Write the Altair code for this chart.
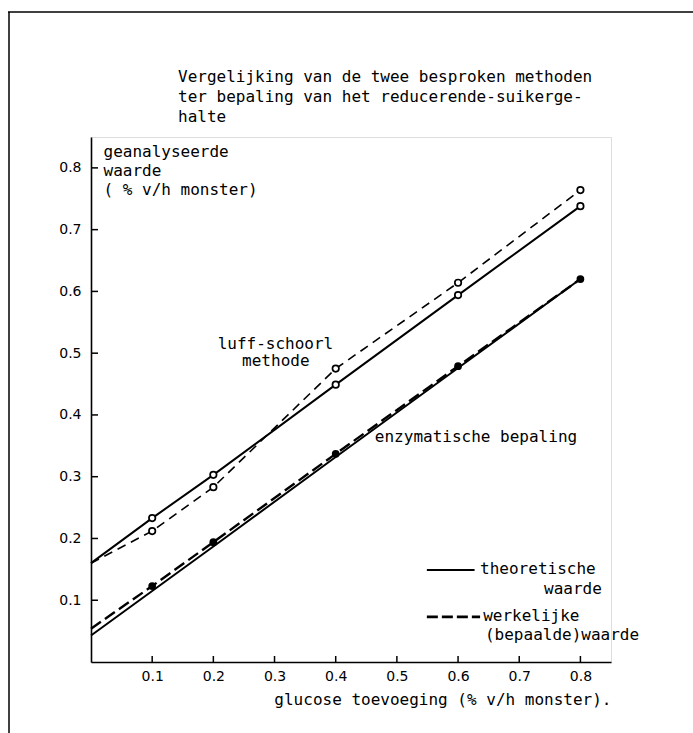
import altair as alt
import pandas as pd

# ---- data ----
x_added = [0.0, 0.1, 0.2, 0.4, 0.6, 0.8]
luff_theoretical = [0.160, 0.233, 0.303, 0.449, 0.594, 0.738]
luff_measured = [0.160, 0.212, 0.283, 0.475, 0.614, 0.764]
enz_theoretical = [0.043, 0.115, 0.187, 0.332, 0.476, 0.620]
enz_measured = [0.054, 0.123, 0.194, 0.337, 0.479, 0.620]

tick_values = [0.1, 0.2, 0.3, 0.4, 0.5, 0.6, 0.7, 0.8]

title_lines = ["Vergelijking van de twee besproken methoden",
               "ter bepaling van het reducerende-suikerge-",
               "halte"]
y_title_lines = ["geanalyseerde", "waarde", "( % v/h monster)"]
x_title = "glucose toevoeging (% v/h monster)."

# annotation texts and their positions in data units
note_text = ["luff-schoorl", "methode", "enzymatische bepaling"]
note_x = [0.207, 0.247, 0.464]
note_y = [0.515, 0.487, 0.364]

legend_text = ["theoretische", "werkelijke", "(bepaalde)waarde"]
legend_text_x = [0.636, 0.641, 0.644]
legend_text_y = [0.151, 0.074, 0.043]
legend_text_right = ["waarde"]
legend_right_x = [0.835]
legend_right_y = [0.118]
legend_line_x = [0.549, 0.549]
legend_line_x2 = [0.627, 0.636]
legend_line_y = [0.149, 0.073]
legend_line_kind = ["solid", "dashed"]

FONT = "DejaVu Sans Mono"
LBLFONT = "DejaVu Sans"

W, H = 520, 525
xs = alt.Scale(domain=[0, 0.85], nice=False, zero=False)
ys = alt.Scale(domain=[0, 0.85], nice=False, zero=False)

xaxis = alt.Axis(values=tick_values, format=".1f", ticks=False, grid=False,
                 labelPadding=7, labelFontSize=14, labelFont=LBLFONT,
                 labelColor="black", domainColor="black", domainWidth=1.6,
                 title=x_title, titleX=W, titleY=37, titleAlign="right",
                 titleBaseline="middle", titleFont=FONT, titleFontSize=16,
                 titleFontWeight="normal", titleColor="black")
yaxis = alt.Axis(values=tick_values, format=".1f", ticks=False, grid=False,
                 labelPadding=10, labelFontSize=14, labelFont=LBLFONT,
                 labelColor="black", domainColor="black", domainWidth=1.6,
                 title=y_title_lines, titleAngle=0, titleAlign="left",
                 titleBaseline="top", titleX=12, titleY=6, titleLineHeight=19,
                 titleFont=FONT, titleFontSize=16, titleFontWeight="normal",
                 titleColor="black")

X = alt.X("x:Q", scale=xs, axis=xaxis)
Y = alt.Y("y:Q", scale=ys, axis=yaxis)

rows = []
for name, vals in [("luff_theor", luff_theoretical), ("luff_meas", luff_measured),
                   ("enz_theor", enz_theoretical), ("enz_meas", enz_measured)]:
    for xv, yv in zip(x_added, vals):
        rows.append({"x": xv, "y": yv, "series": name})
df = pd.DataFrame(rows)

solid = alt.Chart(df[df.series.isin(["luff_theor", "enz_theor"])]).mark_line(
    color="black", strokeWidth=2).encode(x=X, y=Y, detail="series:N")
luff_dash = alt.Chart(df[df.series == "luff_meas"]).mark_line(
    color="black", strokeWidth=1.6, strokeDash=[9, 6]).encode(x=X, y=Y)
enz_dash = alt.Chart(df[df.series == "enz_meas"]).mark_line(
    color="black", strokeWidth=2.4, strokeDash=[12, 5]).encode(x=X, y=Y)

open_pts = alt.Chart(df[df.series.isin(["luff_theor", "luff_meas"]) & (df.x > 0)]).mark_point(
    shape="circle", filled=True, fill="white", stroke="black", strokeWidth=1.7,
    size=42, opacity=1).encode(x=X, y=Y)
filled_pts = alt.Chart(df[(df.series == "enz_meas") & (df.x > 0)]).mark_point(
    shape="circle", filled=True, color="black", size=60, opacity=1).encode(x=X, y=Y)

# inward tick marks
yt = pd.DataFrame({"y": tick_values})
xt = pd.DataFrame({"x": tick_values})
y_ticks = alt.Chart(yt).mark_rule(color="black", strokeWidth=1.5).encode(
    y=Y, x=alt.value(0), x2=alt.value(7))
x_ticks = alt.Chart(xt).mark_rule(color="black", strokeWidth=1.5).encode(
    x=X, y=alt.value(H), y2=alt.value(H - 6))

notes = alt.Chart(pd.DataFrame({"x": note_x, "y": note_y, "t": note_text})).mark_text(
    font=FONT, fontSize=16, align="left", baseline="middle", color="black").encode(
    x=X, y=Y, text="t:N")

leg_txt = alt.Chart(pd.DataFrame({"x": legend_text_x, "y": legend_text_y,
                                  "t": legend_text})).mark_text(
    font=FONT, fontSize=16, align="left", baseline="middle", color="black").encode(
    x=X, y=Y, text="t:N")
leg_txt_r = alt.Chart(pd.DataFrame({"x": legend_right_x, "y": legend_right_y,
                                    "t": legend_text_right})).mark_text(
    font=FONT, fontSize=16, align="right", baseline="middle", color="black").encode(
    x=X, y=Y, text="t:N")

leg_lines = pd.DataFrame({"x": legend_line_x, "x2": legend_line_x2,
                          "y": legend_line_y, "kind": legend_line_kind})
leg_solid = alt.Chart(leg_lines[leg_lines.kind == "solid"]).mark_rule(
    color="black", strokeWidth=2).encode(x=X, x2="x2:Q", y=Y)
leg_dash = alt.Chart(leg_lines[leg_lines.kind == "dashed"]).mark_rule(
    color="black", strokeWidth=2.8, strokeDash=[11, 4]).encode(x=X, x2="x2:Q", y=Y)

# frame of the scanned page (top and left edge)
one = pd.DataFrame({"k": [0]})
frame_top = alt.Chart(one).mark_rule(color="black", strokeWidth=1.5).encode(
    x=alt.value(-83), x2=alt.value(610), y=alt.value(-125))
frame_left = alt.Chart(one).mark_rule(color="black", strokeWidth=1.5).encode(
    x=alt.value(-82), y=alt.value(-125), y2=alt.value(600))

# heading (three lines) above the plot
heading = alt.Chart(one).mark_text(
    text=title_lines, font=FONT, fontSize=16, lineHeight=20, align="left",
    baseline="middle", color="black").encode(x=alt.value(87), y=alt.value(-60))

chart = alt.layer(
    frame_top, frame_left, heading, solid, luff_dash, enz_dash, y_ticks, x_ticks,
    open_pts, filled_pts, notes, leg_solid, leg_dash, leg_txt, leg_txt_r
).properties(
    width=W, height=H,
    padding={"left": 91, "top": 137, "right": 82, "bottom": 71},
    autosize=alt.AutoSizeParams(type="none"),
).configure_view(stroke=None).configure(background="white")

chart.save("out.html", embed_options={"renderer": "svg", "actions": False})
